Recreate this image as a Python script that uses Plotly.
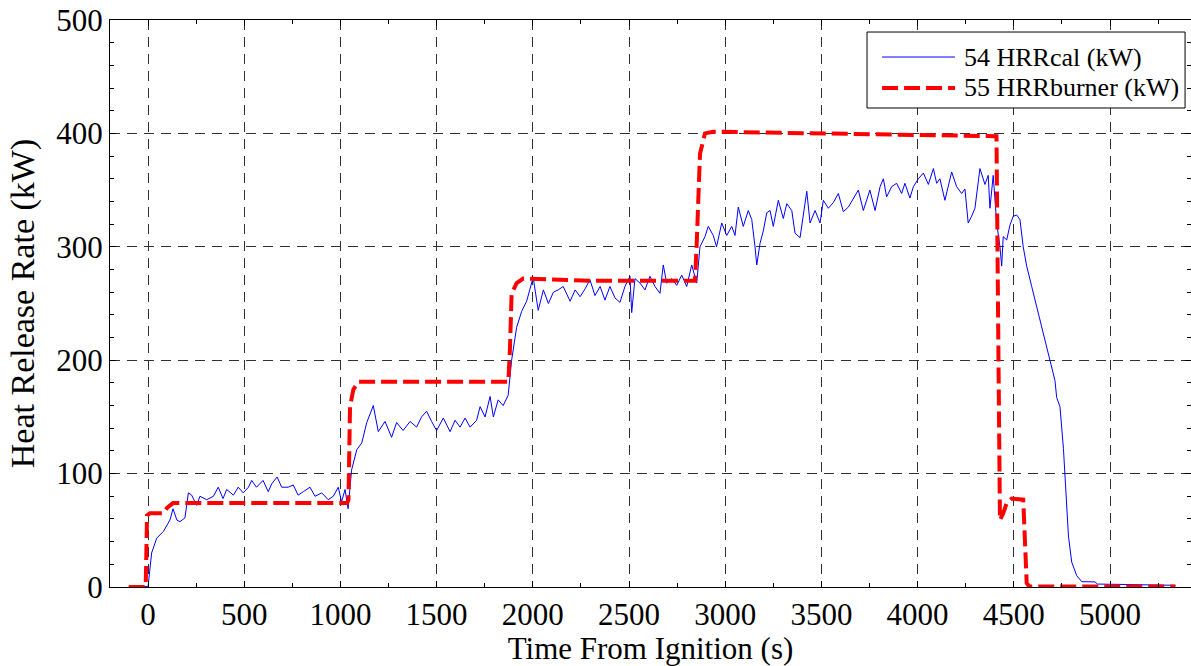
import plotly.graph_objects as go

# Measured heat release rate (kW) vs time from ignition (s)
t_cal = [-100, -50, -10, 0, 19, 45, 80, 114, 130, 150, 166, 192, 210, 227, 253, 270, 305, 340,
         365, 390, 409, 444, 469, 495, 522, 539, 564, 598, 625, 643, 671, 695, 729, 755, 780,
         807, 842, 868, 903, 937, 963, 989, 1006, 1024, 1040, 1058, 1085, 1111, 1137, 1171,
         1197, 1232, 1266, 1292, 1326, 1362, 1396, 1422, 1448, 1474, 1500, 1535, 1570, 1596,
         1622, 1648, 1674, 1708, 1726, 1752, 1778, 1795, 1820, 1846, 1872, 1890, 1916, 1942,
         1968, 2002, 2028, 2055, 2081, 2107, 2132, 2158, 2194, 2220, 2246, 2272, 2297, 2323,
         2350, 2375, 2401, 2427, 2453, 2479, 2505, 2514, 2531, 2557, 2583, 2609, 2635, 2661,
         2678, 2696, 2722, 2748, 2774, 2800, 2826, 2852, 2869, 2895, 2912, 2938, 2955, 2982,
         3008, 3034, 3051, 3068, 3094, 3120, 3138, 3155, 3164, 3181, 3198, 3216, 3233, 3250,
         3276, 3302, 3320, 3346, 3363, 3389, 3406, 3424, 3441, 3467, 3493, 3510, 3536, 3562,
         3588, 3614, 3640, 3692, 3718, 3752, 3779, 3805, 3822, 3839, 3865, 3891, 3917, 3934,
         3960, 3978, 4004, 4030, 4056, 4082, 4099, 4116, 4142, 4177, 4203, 4229, 4246, 4263,
         4281, 4298, 4324, 4350, 4367, 4376, 4393, 4411, 4428, 4437, 4445, 4463, 4480, 4497,
         4515, 4532, 4549, 4567, 4593, 4619, 4650, 4680, 4700, 4714, 4723, 4740, 4758, 4766,
         4775, 4784, 4801, 4827, 4853, 4922, 4935, 5000, 5100, 5200, 5340]
hrr_cal = [0.5, 0.8, 0.5, 0, 30, 43, 49, 59, 69, 59, 57.6, 61, 83, 81, 72, 80, 77, 80,
           88, 78, 86, 81, 88, 83, 88, 94, 88, 94, 84, 91, 97, 88, 88, 90, 81,
           84, 88, 80, 83, 77, 80, 88, 75, 86, 69, 103, 121, 127, 145, 160,
           137, 146, 132, 145, 138, 146, 141, 150, 155, 146, 138, 149, 137, 147,
           141, 149, 141, 147, 159, 150, 168, 150, 165, 160, 169, 200, 229, 243,
           252, 273, 244, 262, 250, 260, 262, 265, 252, 262, 256, 263, 271, 257,
           265, 253, 265, 255, 251, 265, 274, 242, 272, 268, 262, 274, 265, 259,
           284, 268, 272, 266, 275, 265, 284, 268, 300, 309, 318, 310, 300, 321,
           310, 318, 310, 335, 318, 332, 324, 300, 284, 303, 314, 330, 332, 318,
           341, 325, 338, 332, 312, 308, 327, 349, 321, 332, 321, 341, 334, 339,
           347, 331, 335, 350, 332, 350, 332, 353, 360, 344, 353, 356, 347, 356,
           343, 353, 360, 365, 355, 369, 356, 360, 341, 366, 353, 347, 351, 321,
           327, 334, 369, 355, 363, 334, 363, 321, 300, 283, 309, 306, 319, 327,
           328, 324, 300, 283, 265, 247, 225, 205, 192, 182, 167, 159, 122, 97,
           72, 45, 22, 10, 4.7, 4.5, 2.6, 2.5, 2.2, 1.8, 1.5]

# Burner set-point heat release rate (kW)
t_burner = [-100, -12, -5, 10, 80, 100, 130, 500, 1000, 1035, 1042, 1050, 1067, 1093, 1500,
            1873, 1881, 1890, 1916, 1950, 2300, 2843, 2852, 2869, 2895, 2938, 3300, 3800,
            4410, 4428, 4445, 4463, 4489, 4549, 4567, 4580, 5340]
hrr_burner = [0, 0, 63, 65, 65, 70, 74, 74, 73.5, 74, 77, 159, 174, 181, 181,
              181, 209, 259, 268, 272, 270, 270, 303, 382, 400, 401.5, 400.5, 399,
              397.5, 59, 65, 74, 78, 77, 3.5, 0.5, 0.5]

series_names = ["54 HRRcal (kW)", "55 HRRburner (kW)"]
x_ticks = [0, 500, 1000, 1500, 2000, 2500, 3000, 3500, 4000, 4500, 5000]
y_ticks = [0, 100, 200, 300, 400, 500]

FONT = "Liberation Serif"
CAL_LINE = dict(color="#0000ff", width=1)
BURNER_LINE = dict(color="#ff0000", width=4, dash="16px,6px")

fig = go.Figure()
fig.add_trace(go.Scatter(x=t_cal, y=hrr_cal, mode="lines", name=series_names[0],
                         line=CAL_LINE, showlegend=False))
fig.add_trace(go.Scatter(x=t_burner, y=hrr_burner, mode="lines", name=series_names[1],
                         line=BURNER_LINE, showlegend=False))

axis_common = dict(
    showline=True, linecolor="black", linewidth=1, mirror="ticks",
    ticks="inside", ticklen=6, tickcolor="black", tickwidth=1,
    showgrid=True, gridcolor="#303030", gridwidth=1, griddash="10px,7px",
    zeroline=False,
    tickfont=dict(family=FONT, size=31, color="black"),
)

fig.update_xaxes(
    range=[-197.5, 5421], tickvals=x_ticks, ticktext=[str(v) for v in x_ticks],
    title=dict(text="Time From Ignition (s)", font=dict(family=FONT, size=31, color="black"),
               standoff=1),
    minor=dict(dtick=250, tick0=0, ticks="inside", ticklen=4, tickcolor="black", showgrid=False),
    **axis_common,
)
fig.update_yaxes(
    range=[0, 500], tickvals=y_ticks, ticktext=[str(v) for v in y_ticks],
    title=dict(text="Heat Release Rate (kW)", font=dict(family=FONT, size=34, color="black"),
               standoff=11),
    minor=dict(dtick=20, tick0=0, ticks="inside", ticklen=4, tickcolor="black", showgrid=False),
    **axis_common,
)

# Boxed legend in the upper-right corner of the axes (paper coordinates)
box = dict(x0=0.7003, x1=0.9945, y0=0.8448, y1=0.9788)
rows_y = [0.9347, 0.8801]
sample_x = (0.7142, 0.7817)
text_x = 0.7882

shapes = [dict(type="rect", xref="paper", yref="paper", layer="above",
               fillcolor="white", line=dict(color="black", width=1), **box)]
annotations = []
for name, style, ry in zip(series_names, [CAL_LINE, BURNER_LINE], rows_y):
    shapes.append(dict(type="line", xref="paper", yref="paper", layer="above",
                       x0=sample_x[0], x1=sample_x[1], y0=ry, y1=ry, line=style))
    annotations.append(dict(text=name, xref="paper", yref="paper", x=text_x, y=ry,
                            xanchor="left", yanchor="middle", showarrow=False,
                            font=dict(family=FONT, size=26, color="black")))

fig.update_layout(
    width=1191, height=666,
    margin=dict(l=110, r=0, t=20, b=79),
    paper_bgcolor="white", plot_bgcolor="white",
    font=dict(family=FONT, color="black"),
    showlegend=False,
    shapes=shapes,
    annotations=annotations,
)

fig.write_html("out.html")
